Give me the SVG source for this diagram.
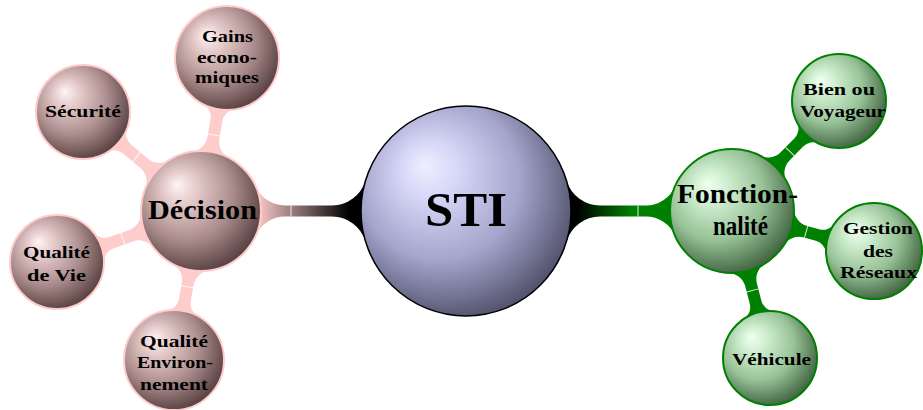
<svg xmlns="http://www.w3.org/2000/svg" width="923" height="410" viewBox="0 0 923 410">
<style>
  text { font-family: "Liberation Serif", "DejaVu Serif", serif; font-weight: bold; fill: #000; text-anchor: middle; }
  .big { font-size: 48px; }
  .mid { font-size: 27px; }
  .sm { font-size: 17.5px; }
  .pinkc { fill: #ffcccc; }
  .greenc { fill: #008000; }
  .gap { stroke: #ffffff; stroke-width: 1; stroke-opacity: 0.85; fill: none; }
  .nBlue { fill: url(#gBlue); stroke: #000; stroke-width: 1.5; }
  .nPink { fill: url(#gPink); stroke: #ffcccc; stroke-width: 2; }
  .nGreen { fill: url(#gGreen); stroke: #008000; stroke-width: 2; }
</style>
<defs>
  <radialGradient id="gBlue" cx="0.42" cy="0.4" r="0.64" fx="0.3" fy="0.28">
    <stop offset="0" stop-color="#eeeeff"/>
    <stop offset="0.2" stop-color="#d8d8f8"/>
    <stop offset="0.6" stop-color="#a4a4cc"/>
    <stop offset="1" stop-color="#4e4e68"/>
  </radialGradient>
  <radialGradient id="gPink" cx="0.42" cy="0.4" r="0.64" fx="0.3" fy="0.28">
    <stop offset="0" stop-color="#fff4f4"/>
    <stop offset="0.2" stop-color="#e8cece"/>
    <stop offset="0.6" stop-color="#ad8e8e"/>
    <stop offset="1" stop-color="#533c3c"/>
  </radialGradient>
  <radialGradient id="gGreen" cx="0.42" cy="0.4" r="0.64" fx="0.3" fy="0.28">
    <stop offset="0" stop-color="#f0fff0"/>
    <stop offset="0.2" stop-color="#d2f0d2"/>
    <stop offset="0.6" stop-color="#97c297"/>
    <stop offset="1" stop-color="#3c5e3c"/>
  </radialGradient>
  <linearGradient id="lPink" x1="0" y1="0" x2="1" y2="0">
    <stop offset="0.15" stop-color="#000000"/>
    <stop offset="1" stop-color="#ffcccc"/>
  </linearGradient>
  <linearGradient id="lGreen" x1="0" y1="0" x2="1" y2="0">
    <stop offset="0.1" stop-color="#000000"/>
    <stop offset="0.6" stop-color="#008000"/>
  </linearGradient>
</defs>

<g id="connectors">
  <!-- STI to Décision -->
  <g transform="translate(466,211) rotate(180)">
    <path fill="url(#lPink)" d="M100.51,-30.38 A35,35 0 0 0 134.01,-5.5 L180.99,-5.5 A32,32 0 0 0 210.21,-24.46 L210.21,24.46 A32,32 0 0 0 180.99,5.5 L134.01,5.5 A35,35 0 0 0 100.51,30.38 Z"/>
    <line class="gap" x1="175" y1="-5.5" x2="175" y2="5.5"/>
  </g>
  <!-- STI to Fonctionnalité -->
  <g transform="translate(466,211)">
    <path fill="url(#lGreen)" d="M100.51,-30.38 A35,35 0 0 0 134.01,-5.5 L179.80,-5.5 A32,32 0 0 0 209.14,-24.73 L209.14,24.73 A32,32 0 0 0 179.80,5.5 L134.01,5.5 A35,35 0 0 0 100.51,30.38 Z"/>
    <line class="gap" x1="172" y1="-5.5" x2="172" y2="5.5"/>
  </g>
  <!-- Décision to Gains -->
  <g transform="translate(201,211) rotate(-80.36)">
    <path class="pinkc" d="M57.09,-18.46 A18,18 0 0 0 74.22,-6 L92.29,-6 A14,14 0 0 0 105.63,-15.76 L105.63,15.76 A14,14 0 0 0 92.29,6 L74.22,6 A18,18 0 0 0 57.09,18.46 Z"/>
    <line class="gap" x1="77" y1="-6" x2="77" y2="6"/>
  </g>
  <!-- Décision to Sécurité -->
  <g transform="translate(201,211) rotate(-140)">
    <path class="pinkc" d="M57.09,-18.46 A18,18 0 0 0 74.22,-6 L96.40,-6 A14,14 0 0 0 109.63,-15.41 L109.63,15.41 A14,14 0 0 0 96.40,6 L74.22,6 A18,18 0 0 0 57.09,18.46 Z"/>
    <line class="gap" x1="84" y1="-6" x2="84" y2="6"/>
  </g>
  <!-- Décision to Qualité de Vie -->
  <g transform="translate(201,211) rotate(160.5)">
    <path class="pinkc" d="M57.09,-18.46 A18,18 0 0 0 74.22,-6 L95.14,-6 A14,14 0 0 0 108.37,-15.41 L108.37,15.41 A14,14 0 0 0 95.14,6 L74.22,6 A18,18 0 0 0 57.09,18.46 Z"/>
    <line class="gap" x1="83" y1="-6" x2="83" y2="6"/>
  </g>
  <!-- Décision to Qualité Environnement -->
  <g transform="translate(201,211) rotate(100.27)">
    <path class="pinkc" d="M57.09,-18.46 A18,18 0 0 0 74.22,-6 L90.64,-6 A14,14 0 0 0 103.93,-15.63 L103.93,15.63 A14,14 0 0 0 90.64,6 L74.22,6 A18,18 0 0 0 57.09,18.46 Z"/>
    <line class="gap" x1="77" y1="-6" x2="77" y2="6"/>
  </g>
  <!-- Fonctionnalité to Bien ou Voyageur -->
  <g transform="translate(732,211) rotate(-45.79)">
    <path class="greenc" d="M59.15,-18.6 A18,18 0 0 0 76.32,-6 L95.83,-6 A14,14 0 0 0 109.06,-15.41 L109.06,15.41 A14,14 0 0 0 95.83,6 L76.32,6 A18,18 0 0 0 59.15,18.6 Z"/>
    <line class="gap" x1="83" y1="-6" x2="83" y2="6"/>
  </g>
  <!-- Fonctionnalité to Gestion des Réseaux -->
  <g transform="translate(732,211) rotate(15.73)">
    <path class="greenc" d="M59.15,-18.6 A18,18 0 0 0 76.32,-6 L88.84,-6 A14,14 0 0 0 102.09,-15.48 L102.09,15.48 A14,14 0 0 0 88.84,6 L76.32,6 A18,18 0 0 0 59.15,18.6 Z"/>
    <line class="gap" x1="77" y1="-6" x2="77" y2="6"/>
  </g>
  <!-- Fonctionnalité to Véhicule -->
  <g transform="translate(732,211) rotate(75.51)">
    <path class="greenc" d="M59.15,-18.6 A18,18 0 0 0 76.32,-6 L94.20,-6 A14,14 0 0 0 107.43,-15.41 L107.43,15.41 A14,14 0 0 0 94.20,6 L76.32,6 A18,18 0 0 0 59.15,18.6 Z"/>
    <line class="gap" x1="82" y1="-6" x2="82" y2="6"/>
  </g>
</g>

<g id="sti">
  <circle class="nBlue" cx="466" cy="211" r="105"/>
  <text class="big" x="466" y="226" textLength="82" lengthAdjust="spacingAndGlyphs">STI</text>
</g>
<g id="decision">
  <circle class="nPink" cx="201" cy="211" r="60"/>
  <text class="mid" x="202.5" y="219" textLength="109" lengthAdjust="spacingAndGlyphs">Décision</text>
</g>
<g id="fonctionnalite">
  <circle class="nGreen" cx="732" cy="211" r="62"/>
  <text class="mid" x="737.5" y="203" textLength="121" lengthAdjust="spacingAndGlyphs">Fonction-</text>
  <text class="mid" x="740.5" y="235" textLength="55" lengthAdjust="spacingAndGlyphs">nalité</text>
</g>
<g id="gains">
  <circle class="nPink" cx="227" cy="58" r="52"/>
  <text class="sm" x="227.5" y="42" textLength="51" lengthAdjust="spacingAndGlyphs">Gains</text>
  <text class="sm" x="227" y="63" textLength="60" lengthAdjust="spacingAndGlyphs">econo-</text>
  <text class="sm" x="227" y="83" textLength="64" lengthAdjust="spacingAndGlyphs">miques</text>
</g>
<g id="securite">
  <circle class="nPink" cx="83" cy="112" r="47"/>
  <text class="sm" x="83" y="117" textLength="76" lengthAdjust="spacingAndGlyphs">Sécurité</text>
</g>
<g id="qualite-vie">
  <circle class="nPink" cx="57" cy="262" r="47"/>
  <text class="sm" x="56.5" y="258" textLength="67" lengthAdjust="spacingAndGlyphs">Qualité</text>
  <text class="sm" x="56.5" y="281" textLength="59" lengthAdjust="spacingAndGlyphs">de Vie</text>
</g>
<g id="qualite-env">
  <circle class="nPink" cx="174" cy="360" r="50"/>
  <text class="sm" x="174" y="347" textLength="68" lengthAdjust="spacingAndGlyphs">Qualité</text>
  <text class="sm" x="175" y="368" textLength="76" lengthAdjust="spacingAndGlyphs">Environ-</text>
  <text class="sm" x="174" y="390" textLength="68" lengthAdjust="spacingAndGlyphs">nement</text>
</g>
<g id="bien-voyageur">
  <circle class="nGreen" cx="839" cy="101" r="47"/>
  <text class="sm" x="839" y="95" textLength="72" lengthAdjust="spacingAndGlyphs">Bien ou</text>
  <text class="sm" x="843" y="117" textLength="86" lengthAdjust="spacingAndGlyphs">Voyageur</text>
</g>
<g id="gestion">
  <circle class="nGreen" cx="874" cy="251" r="48"/>
  <text class="sm" x="878" y="234" textLength="70" lengthAdjust="spacingAndGlyphs">Gestion</text>
  <text class="sm" x="878" y="257" textLength="30" lengthAdjust="spacingAndGlyphs">des</text>
  <text class="sm" x="878.5" y="278" textLength="77" lengthAdjust="spacingAndGlyphs">Réseaux</text>
</g>
<g id="vehicule">
  <circle class="nGreen" cx="770" cy="358" r="47"/>
  <text class="sm" x="771.5" y="365" textLength="79" lengthAdjust="spacingAndGlyphs">Véhicule</text>
</g>
</svg>
